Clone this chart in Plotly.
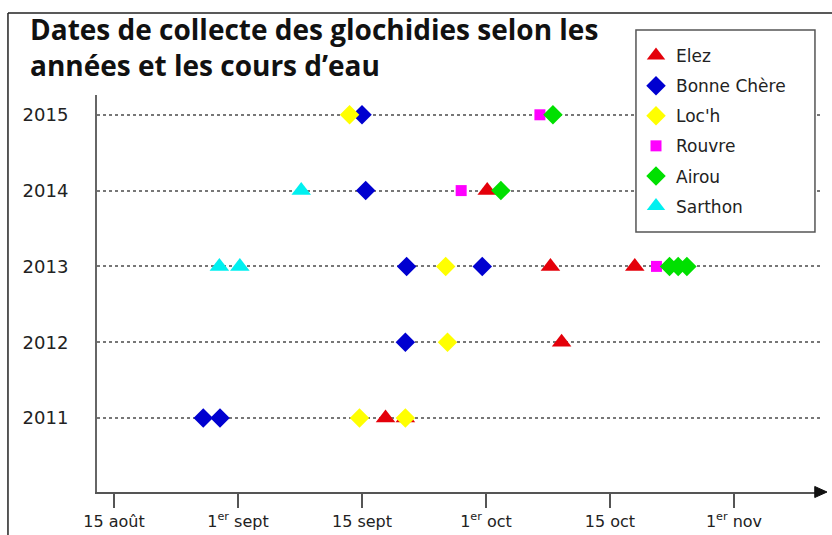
import plotly.graph_objects as go

# x position in half-month steps: 0 = 15 août, 1 = 1er sept, ... 5 = 1er nov
tick_pos = [0, 1, 2, 3, 4, 5]
tick_text = ["15 août", "1<sup>er</sup> sept", "15 sept", "1<sup>er</sup> oct", "15 oct", "1<sup>er</sup> nov"]
years = [2011, 2012, 2013, 2014, 2015]

elez_x = [2.19, 2.35, 3.61, 3.52, 4.20, 3.01]
elez_y = [2011, 2011, 2012, 2013, 2013, 2014]

bonne_x = [0.72, 0.855, 2.35, 2.36, 2.97, 2.03, 2.00]
bonne_y = [2011, 2011, 2012, 2013, 2013, 2014, 2015]

loch_x = [1.98, 2.35, 2.69, 2.675, 1.90]
loch_y = [2011, 2011, 2012, 2013, 2015]

rouvre_x = [4.375, 2.80, 3.435]
rouvre_y = [2013, 2014, 2015]

airou_x = [4.48, 4.55, 4.62, 3.12, 3.54]
airou_y = [2013, 2013, 2013, 2014, 2015]

sarthon_x = [0.85, 1.015, 1.51]
sarthon_y = [2013, 2013, 2014]

series = [
    ("Elez", elez_x, elez_y, "triangle-up", "#e4000a"),
    ("Bonne Chère", bonne_x, bonne_y, "diamond", "#0000d0"),
    ("Loc'h", loch_x, loch_y, "diamond", "#ffff00"),
    ("Rouvre", rouvre_x, rouvre_y, "square", "#ff00ff"),
    ("Airou", airou_x, airou_y, "diamond", "#00e000"),
    ("Sarthon", sarthon_x, sarthon_y, "triangle-up", "#00f0f0"),
]
sizes = {"triangle-up": 17, "diamond": 15, "square": 11}

fig = go.Figure()

for name, xs, ys, sym, col in series:
    fig.add_trace(go.Scatter(
        x=xs, y=ys,
        mode='markers',
        name=name,
        legendgroup=name,
        marker=dict(symbol=sym, color=col, size=sizes[sym], line=dict(width=0)),
    ))

# plot area: x 97..822 px, y 95..492 px
fig.update_layout(
    width=832,
    height=535,
    paper_bgcolor='white',
    plot_bgcolor='white',
    margin=dict(l=97, r=10, t=95, b=43, autoexpand=False),
    font=dict(family="DejaVu Sans", color='#222'),
    legend=dict(
        xref='container', yref='container',
        x=636 / 832, y=1 - 38 / 535, xanchor='left', yanchor='top',
        borderwidth=0, bgcolor='rgba(0,0,0,0)',
        font=dict(family="DejaVu Sans", size=17, color='#222'),
        tracegroupgap=5,
        entrywidth=140,
    ),
    xaxis=dict(
        range=[-0.137, 5.71],
        tickvals=tick_pos,
        ticktext=tick_text,
        showgrid=False,
        zeroline=False,
        showline=True,
        linecolor='#555',
        linewidth=2,
        ticks='outside',
        ticklen=14,
        tickwidth=1.5,
        tickcolor='#555',
        automargin=False,
        tickfont=dict(family="DejaVu Sans", size=16, color='#222'),
    ),
    yaxis=dict(
        range=[2010.024, 2015.261],
        tickvals=years,
        showgrid=True,
        gridcolor='#777',
        griddash='dot',
        gridwidth=1.5,
        zeroline=False,
        showline=True,
        linecolor='#666',
        linewidth=2,
        ticks='',
        automargin=False,
        ticklabelstandoff=23,
        tickfont=dict(family="DejaVu Sans", size=18, color='#222'),
    ),
    shapes=[
        # legend box
        dict(type='rect', xref='paper', yref='paper', x0=0.7434, x1=0.9903, y0=0.6549, y1=1.1637,
             fillcolor='white', line=dict(color='#555', width=1.5), layer='above'),
        # outer frame (left + top edges)
        dict(type='line', xref='paper', yref='paper', x0=-0.1228, x1=-0.1228, y0=1.2065, y1=-0.2,
             line=dict(color='#222', width=1.5)),
        dict(type='line', xref='paper', yref='paper', x0=-0.1228, x1=1.05, y0=1.2065, y1=1.2065,
             line=dict(color='#222', width=1.5)),
        # arrowhead at the end of the x axis
        dict(type='path', xref='paper', yref='paper',
             path="M 0.990,0.0139 L 1.0069,0 L 0.990,-0.0139 Z",
             fillcolor='#111', line=dict(color='#111', width=1)),
    ],
    annotations=[
        dict(x=-0.0952, y=(492 - 47) / 397, xref='paper', yref='paper',
             xanchor='left', yanchor='middle', align='left', showarrow=False,
             text="<b>Dates de collecte des glochidies selon les<br>années et les cours d’eau</b>",
             font=dict(family="Open Sans", size=28, color='#111')),
    ],
)

fig.write_html("out.html", config={'displayModeBar': False},
               post_script="document.body.style.margin = '0';")
